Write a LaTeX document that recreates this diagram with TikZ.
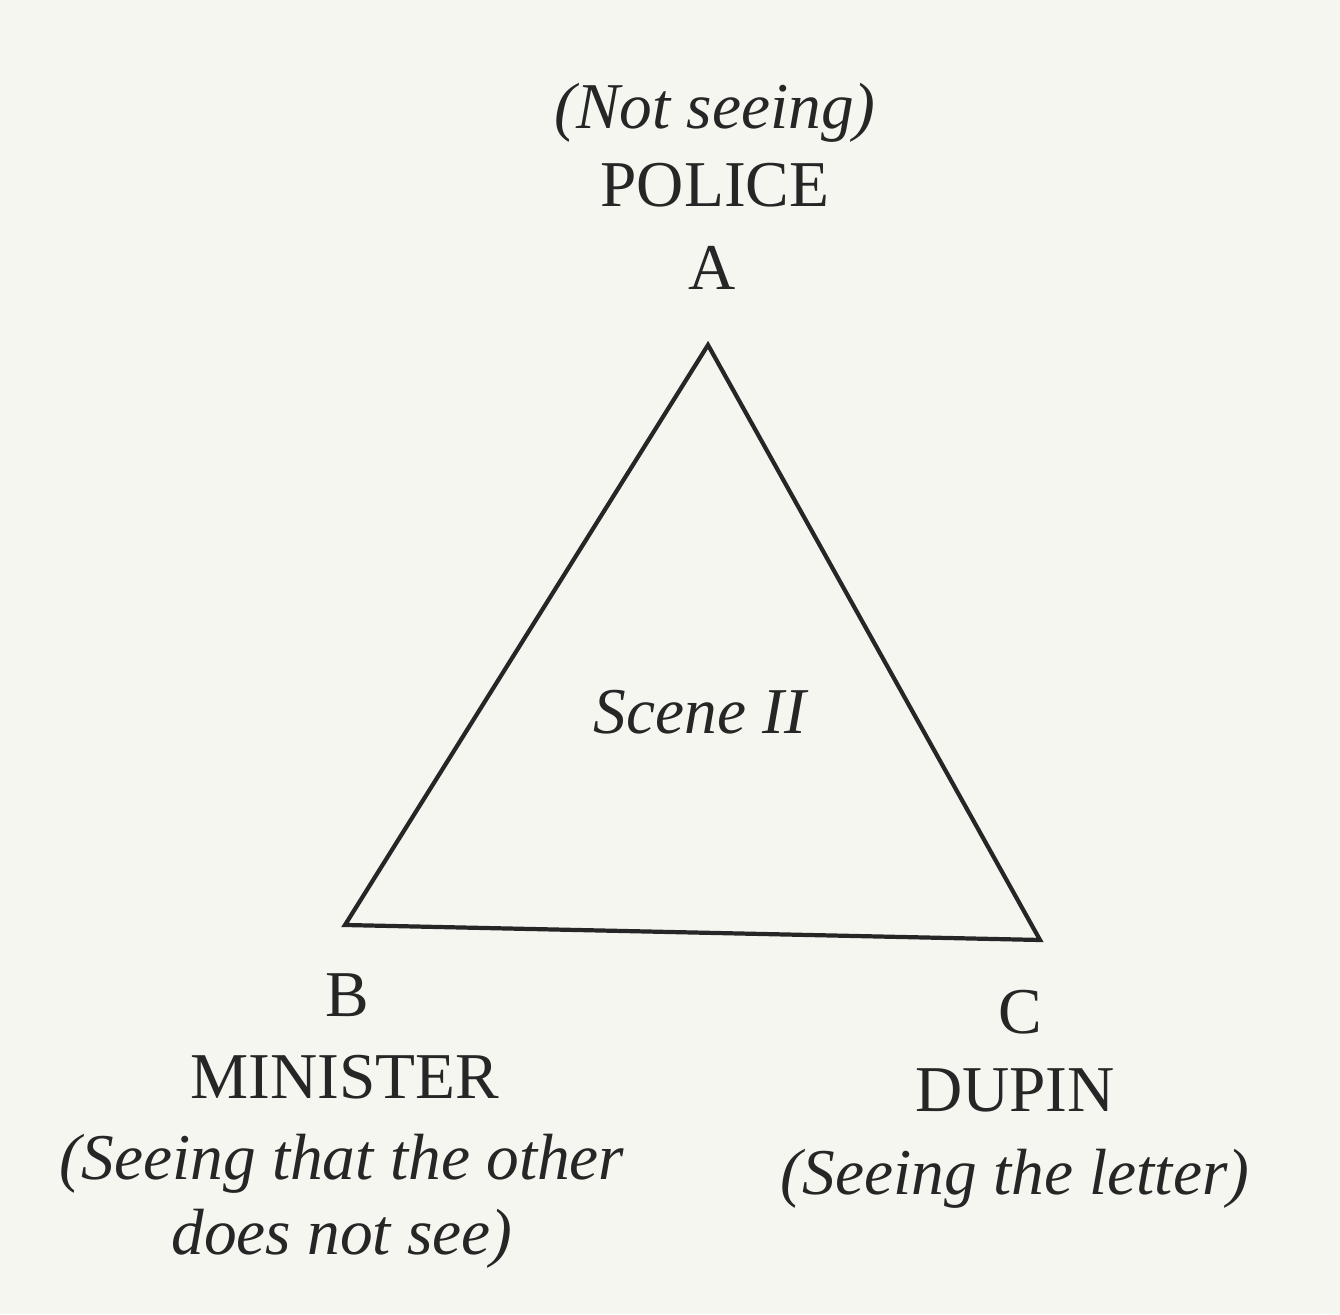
\documentclass[tikz,border=0pt]{standalone}
\usepackage{fontspec}
\setmainfont{Liberation Serif}
\usepackage{xcolor}
\usetikzlibrary{positioning}
\definecolor{paper}{RGB}{246,246,241}
\definecolor{ink}{RGB}{38,38,38}
\tikzset{
  label/.style={text=ink, font=\fontsize{18.6}{22}\selectfont, inner sep=0pt},
  remark/.style={text=ink, font=\fontsize{18.6}{21.3}\selectfont\itshape, inner sep=0pt, align=center},
  side/.style={draw=ink, line width=1.2pt, line join=miter}
}
\begin{document}
\begin{tikzpicture}
% page and background
\fill[paper] (0,0) rectangle (13.40,13.14);
\useasboundingbox (0,0) rectangle (13.40,13.14);

% vertices of the triangle
\coordinate (A) at (7.08,9.69);
\coordinate (B) at (3.45,3.89);
\coordinate (C) at (10.40,3.74);
\draw[side] (A) -- (B) -- (C) -- cycle;

% vertex A
\node[label] (a) at (7.12,10.46) {A};
\node[label] (police) at (7.15,11.29) {POLICE};
\node[remark] (notseeing) at (7.15,12.01) {(Not seeing)};

% centre
\node[remark] (scene) at (7.00,6.02) {Scene II};

% vertex B
\node[label] (b) at (3.47,3.19) {B};
\node[label] (minister) at (3.45,2.37) {MINISTER};
\node[remark] (bseeing) at (3.42,1.13) {(Seeing that the other\\does not see)};

% vertex C
\node[label] (c) at (10.20,3.02) {C};
\node[label] (dupin) at (10.15,2.24) {DUPIN};
\node[remark] (cseeing) at (10.15,1.35) {(Seeing the letter)};
\end{tikzpicture}
\end{document}
